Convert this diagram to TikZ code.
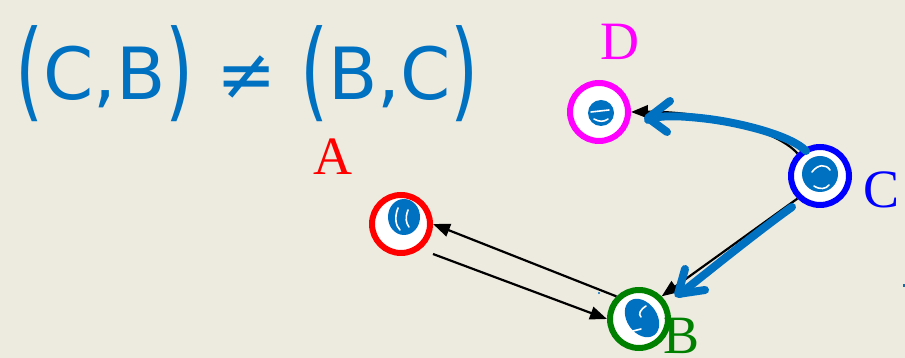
\documentclass[tikz,border=0pt]{standalone}
\usepackage{fontspec}
\setmainfont{Liberation Serif}
\newfontfamily\inkfont{DejaVu Sans}
\usepackage{xcolor}
\usepackage{graphicx}
\usetikzlibrary{arrows.meta,calc}

\definecolor{paper}{RGB}{237,235,224}
\definecolor{ink}{RGB}{0,112,192}
\definecolor{darkgreen}{RGB}{0,128,0}
\definecolor{pink}{RGB}{255,0,255}
\definecolor{pureblue}{RGB}{0,0,255}
\definecolor{purered}{RGB}{255,0,0}

% taller hand-drawn brackets
\newcommand{\bigp}[1]{\raisebox{-0.1em}{\scalebox{1}[1.5]{#1}}}

\begin{document}
\begin{tikzpicture}[
    x=1pt, y=1pt,
    vertex/.style={circle, draw, fill=white, line width=6pt, minimum size=58pt, inner sep=0pt},
    vlabel/.style={font=\fontsize{54}{54}\selectfont, inner sep=0pt},
    edge/.style={-{Triangle[length=17pt,width=13pt]}, line width=2.2pt, black},
    stroke/.style={draw=ink, line width=8pt, line cap=round, line join=round},
    scratch/.style={draw=white, line width=1.6pt, line cap=round}
]
% Background
\fill[paper] (0,0) rectangle (905,358);
\useasboundingbox (0,0) rectangle (905,358);

% Handwritten note
\node[text=ink, font=\inkfont\fontsize{72}{72}\selectfont, inner sep=0pt, anchor=base] (note) at (247,258)
    {\bigp{(}C,B\bigp{)} ≠ \bigp{(}B,C\bigp{)}};

% Vertices
\node[vertex, draw=purered] (a) at (401,134) {};
\node[vertex, draw=darkgreen] (b) at (639,39) {};
\node[vertex, draw=pureblue] (c) at (820,182) {};
\node[vertex, draw=pink] (d) at (599,246) {};

% Labels
\node[vlabel, text=purered] (la) at (333,201) {A};
\node[vlabel, text=darkgreen] (lb) at (682,22) {B};
\node[vlabel, text=pureblue] (lc) at (881,168) {C};
\node[vlabel, text=pink] (ld) at (620,316) {D};

% Scribbles inside the vertices
\fill[ink] (404,141) ellipse [x radius=16, y radius=18];
\draw[scratch] (398,150) .. controls (394,140) and (396,132) .. (400,128);
\draw[scratch] (408,148) .. controls (405,140) and (406,135) .. (409,131);
\fill[ink, rotate around={35:(642,40)}] (642,40) ellipse [x radius=15, y radius=21];
\draw[scratch] (646,52) .. controls (640,48) and (638,44) .. (641,41);
\draw[scratch] (633,27) -- (641,29);
\fill[ink] (820,184) ellipse [x radius=18, y radius=18];
\draw[scratch] (812,186) .. controls (818,194) and (826,194) .. (830,188);
\draw[scratch] (814,172) .. controls (820,168) and (826,169) .. (829,173);
\fill[ink] (601,245) ellipse [x radius=13, y radius=13];
\draw[scratch] (591,246) -- (609,248);
\draw[scratch] (594,239) .. controls (599,236) and (604,236) .. (608,239);

% Edges
\draw[edge] ([yshift=-30pt]a.east) -- (b.west);
\draw[edge] (b.north west) -- (a.east);
\draw[edge] (c.south west) -- (b.north east);
\draw[edge] (c.north west) .. controls +(-22,25) and +(68,1) .. (d.east);

% Ink arrows over the edges
\draw[stroke] (806,207) .. controls (792,222) and (740,236) .. (700,240)
    .. controls (672,243) and (656,242) .. (648,238);
\draw[stroke] (670,257) -- (648,240) -- (667,226);
\draw[stroke] (792,151) .. controls (760,128) and (720,96) .. (680,64);
\draw[stroke] (685,89) -- (678,64) -- (705,68);

% Stray ink dots
\fill[ink] (599,65) circle [radius=1.2];
\fill[ink] (903,71) rectangle (905,74);
\end{tikzpicture}
\end{document}
